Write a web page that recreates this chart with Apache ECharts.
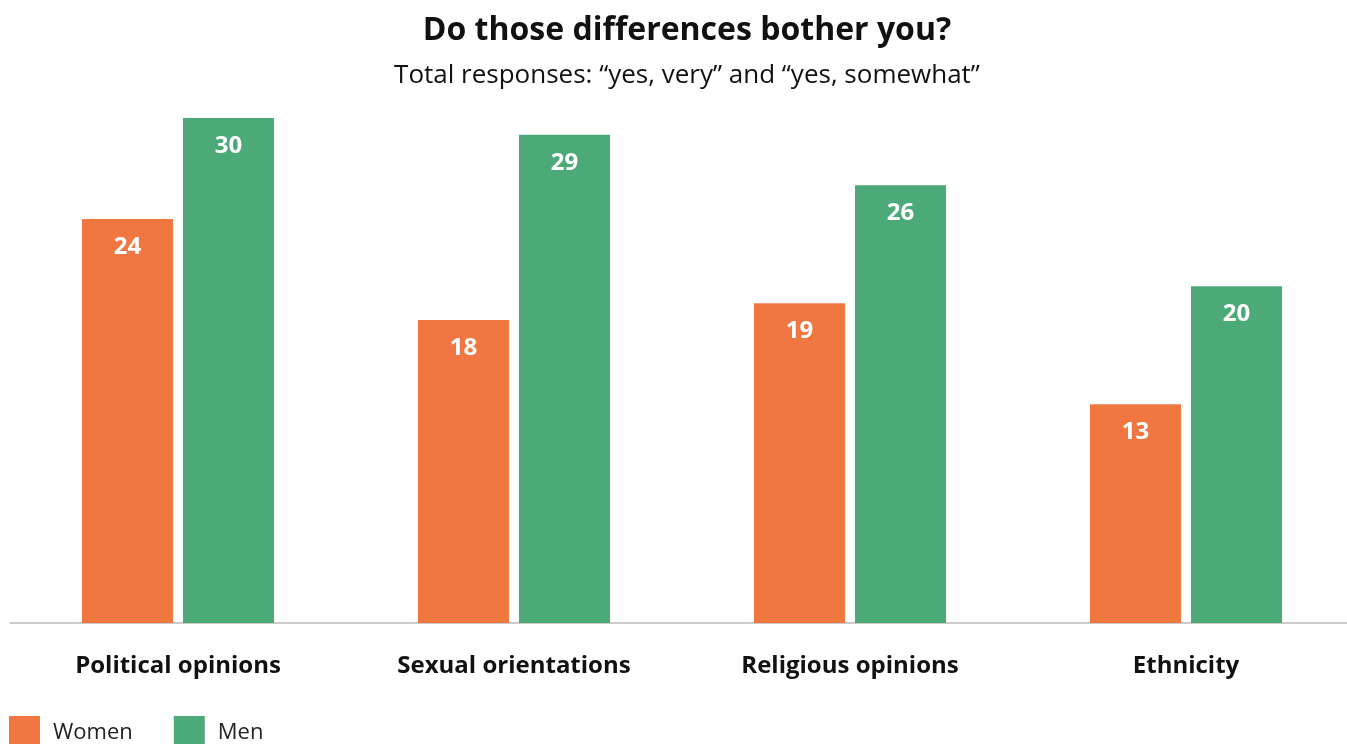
<!DOCTYPE html>
<html><head><meta charset="utf-8">
<script src="https://cdn.jsdelivr.net/npm/echarts@6/dist/echarts.min.js"></script>
<style>html,body{margin:0;padding:0;background:#fff;overflow:hidden}#c{width:1354px;height:744px}</style>
</head><body><div id="c"></div>
<script>
var categories = ["Political opinions", "Sexual orientations", "Religious opinions", "Ethnicity"];
var women = [24, 18, 19, 13];
var men = [30, 29, 26, 20];
var seriesNames = ["Women", "Men"];
var colors = ["#F07742", "#4BAA78"];

var F = 'Open Sans';
var chart = echarts.init(document.getElementById('c'));
var label = {show: true, position: 'insideTop', distance: 16, color: '#fff', fontFamily: F, fontWeight: 'bold', fontSize: 24};
chart.setOption({
  animation: false,
  title: {
    text: 'Do those differences bother you?',
    subtext: 'Total responses: \u201cyes, very\u201d and \u201cyes, somewhat\u201d',
    left: 682, textAlign: 'center', top: 10, itemGap: 16,
    textStyle: {fontFamily: F, fontWeight: 'bold', fontSize: 32, color: '#111'},
    subtextStyle: {fontFamily: F, fontSize: 26, color: '#111'}
  },
  legend: {
    left: 9, bottom: -5, padding: 0, itemWidth: 31, itemHeight: 33, itemGap: 41,
    icon: 'rect',
    textStyle: {fontFamily: F, fontSize: 22, color: '#222', padding: [0, 0, 0, 8]},
    data: seriesNames
  },
  grid: {left: 10, right: 0, top: 118, bottom: 121, containLabel: false},
  xAxis: {
    type: 'category', data: categories,
    axisLine: {lineStyle: {color: '#bbb', width: 1.5}},
    axisTick: {show: false},
    axisLabel: {fontFamily: F, fontWeight: 'bold', fontSize: 24, color: '#111', margin: 31}
  },
  yAxis: {type: 'value', min: 0, max: 30, show: false, splitLine: {show: false}},
  series: [
    {name: seriesNames[0], type: 'bar', data: women, barWidth: 91, barGap: '11%', itemStyle: {color: colors[0]}, label: label},
    {name: seriesNames[1], type: 'bar', data: men, barWidth: 91, barGap: '11%', itemStyle: {color: colors[1]}, label: label}
  ]
});
</script></body></html>
